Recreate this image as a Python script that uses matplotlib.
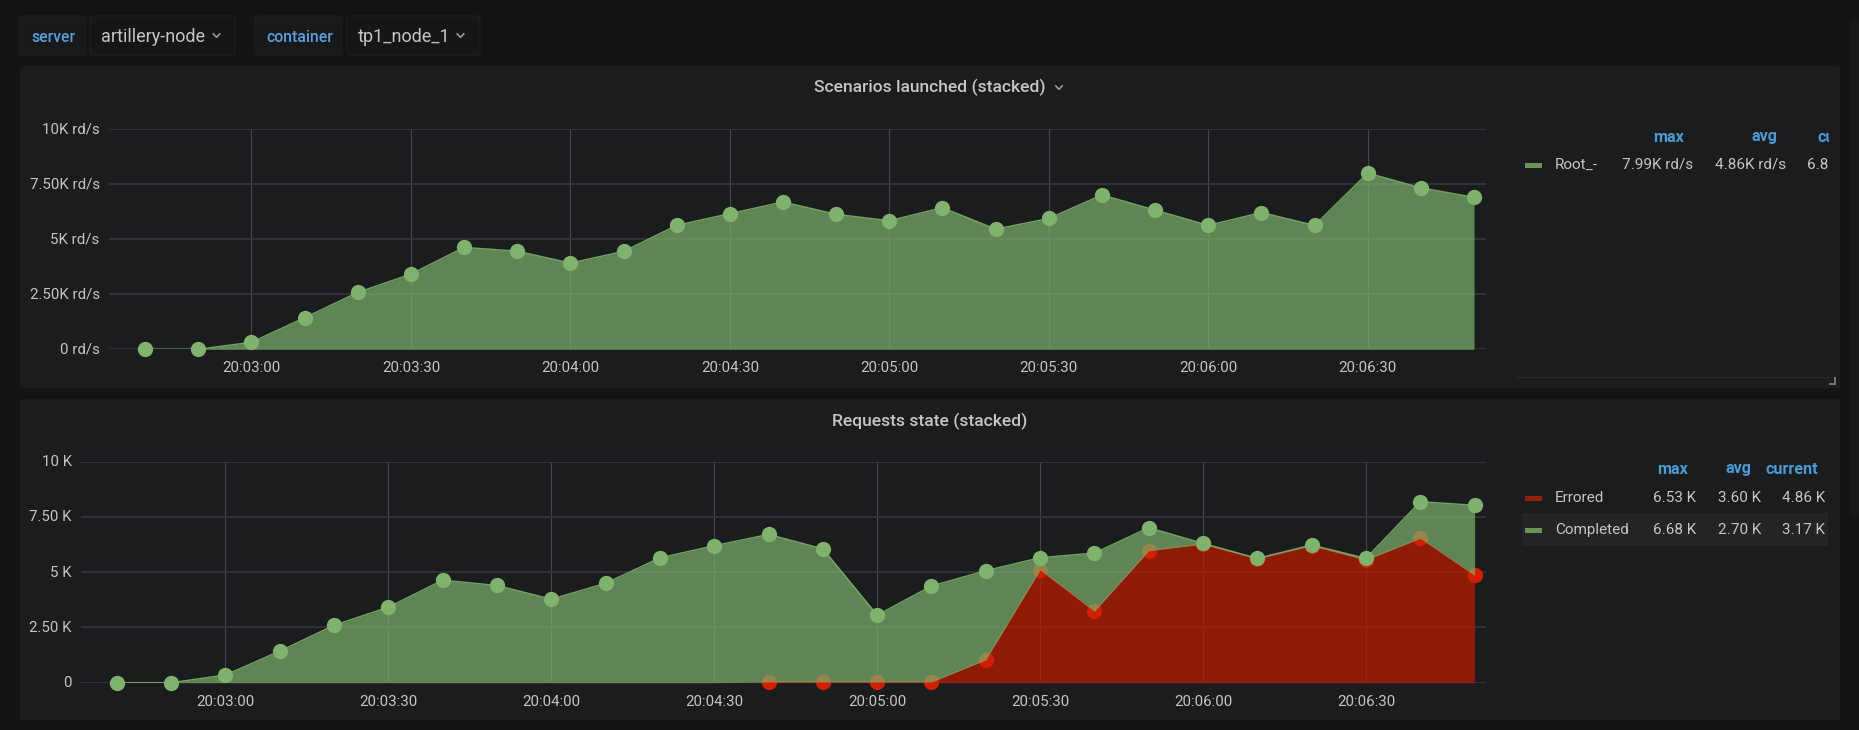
import matplotlib
matplotlib.use("Agg")
import matplotlib.pyplot as plt
from matplotlib.patches import FancyBboxPatch, Rectangle
from matplotlib.lines import Line2D
from matplotlib.transforms import Bbox, IdentityTransform, ScaledTranslation
import numpy as np
import pandas as pd

W, H = 1859, 730
plt.rcParams['font.family'] = ['Roboto', 'DejaVu Sans']

# ---------- data ----------
times = ["20:02:40", "20:02:50", "20:03:00", "20:03:10", "20:03:20", "20:03:30", "20:03:40",
         "20:03:50", "20:04:00", "20:04:10", "20:04:20", "20:04:30", "20:04:40", "20:04:50",
         "20:05:00", "20:05:10", "20:05:20", "20:05:30", "20:05:40", "20:05:50", "20:06:00",
         "20:06:10", "20:06:20", "20:06:30", "20:06:40", "20:06:50"]
root = [0, 0, 320, 1430, 2580, 3410, 4620, 4450, 3910, 4440, 5620, 6150, 6680, 6120,
        5830, 6420, 5450, 5930, 7000, 6310, 5620, 6200, 5620, 7990, 7320, 6890]
errored = [np.nan] * 12 + [30, 30, 30, 30, 1030, 5100, 3230, 5970, 6270, 5600, 6200, 5550, 6530, 4860]
completed = [0, 0, 350, 1430, 2600, 3420, 4640, 4400, 3780, 4500, 5650, 6200, 6680, 6030,
             3030, 4345, 4040, 556, 2638, 1044, 36, 27, 30, 77, 1660, 3170]
tick_times = ["20:03:00", "20:03:30", "20:04:00", "20:04:30", "20:05:00", "20:05:30", "20:06:00", "20:06:30"]
y_ticks = [0, 2500, 5000, 7500, 10000]
y_labels_top = ["0 rd/s", "2.50K rd/s", "5K rd/s", "7.50K rd/s", "10K rd/s"]
y_labels_bottom = ["0", "2.50 K", "5 K", "7.50 K", "10 K"]

# ---------- style ----------
BG = "#131416"; PANEL = "#1b1c1e"; BOX = "#151618"; BORDER = "#1f2022"
GRID = "#343538"; VGRID = "#45464a"; TEXT = "#c7c5c0"; BLUE = "#4a9bd6"; BLUE2 = "#5b9fe0"
GREEN = "#7EB26D"; RED = "#BF1B00"; RED_MARK = "#d11f00"; SW_GREEN = "#6f9155"; SW_RED = "#962010"
ALPHA = 0.7
MS = 11
TICK_SIZE = 10.8
LEG_SIZE = 11
HEAD_SIZE = 11.6

fig = plt.figure(figsize=(W / 100, H / 100), dpi=100, facecolor=BG)


def fx(x):
    return x / W


def fy(y):
    return 1 - y / H


def box(l, t, r, b, fc, ec="none", rad=3, z=0):
    p = FancyBboxPatch((l + rad, H - b + rad), r - l - 2 * rad, b - t - 2 * rad,
                       boxstyle=f"round,pad={rad},rounding_size={rad}",
                       fc=fc, ec=ec, lw=0.8, zorder=z)
    p.set_transform(IdentityTransform())
    fig.add_artist(p)


def rect(l, t, r, b, fc, z=1):
    fig.add_artist(Rectangle((fx(l), fy(b)), (r - l) / W, (b - t) / H, transform=fig.transFigure,
                             fc=fc, ec="none", zorder=z))


def label(x, y, s, size=LEG_SIZE, color=TEXT, ha="left", weight="normal", clip=None):
    t = fig.text(fx(x), fy(y + 1), s, fontsize=size, color=color, ha=ha, va="center", weight=weight, zorder=5)
    if clip is not None:
        t.set_clip_on(True)
        t.set_clip_box(Bbox([[clip[0], H - clip[3]], [clip[2], H - clip[1]]]))
    return t


def chevron(cx, cy, color="#9a9a9a"):
    fig.add_artist(Line2D([fx(cx - 3.2), fx(cx), fx(cx + 3.2)], [fy(cy - 1.6), fy(cy + 1.8), fy(cy - 1.6)],
                          transform=fig.transFigure, color=color, lw=1.2, zorder=5))


# page furniture
box(1850, 19, 1868, 516, "#17181a")
box(20, 66, 1840, 388, PANEL)
box(20, 399, 1840, 720, PANEL)

box(20, 16, 85, 55, "#18191b", BORDER)
box(90, 16, 235, 55, BOX, BORDER)
box(255, 16, 341, 55, "#18191b", BORDER)
box(347, 16, 480, 55, BOX, BORDER)
label(31, 36, "server", 11.3, BLUE2, weight="medium")
label(101, 35.5, "artillery-node", 13)
chevron(216.5, 35.5)
label(266, 36, "container", 11.3, BLUE2, weight="medium")
label(358, 35.5, "tp1_node_1", 13)
chevron(460.5, 35.5)

label(930, 86.5, "Scenarios launched (stacked)", 12.6, ha="center", weight="medium")
chevron(1059, 87.5)
label(930, 420, "Requests state (stacked)", 12.6, ha="center", weight="medium")

# ---------- axes ----------
t = pd.to_datetime(times, format="%H:%M:%S")
t0 = pd.to_datetime("20:03:00", format="%H:%M:%S")
ticks = pd.to_datetime(tick_times, format="%H:%M:%S")


def make_axes(left, top, right, bottom, xmin_s, xmax_s, ylabels):
    ax = fig.add_axes([fx(left), fy(bottom), (right - left) / W, (bottom - top) / H], facecolor="none")
    ax.set_xlim(t0 + pd.Timedelta(seconds=xmin_s), t0 + pd.Timedelta(seconds=xmax_s))
    ax.set_ylim(0, 10000)
    ax.set_yticks(y_ticks, ylabels)
    ax.set_xticks(ticks, tick_times)
    for s in ax.spines.values():
        s.set_visible(False)
    ax.tick_params(length=0, colors=TEXT, labelsize=TICK_SIZE)
    ax.tick_params(axis="y", pad=6.5)
    ax.tick_params(axis="x", pad=8.5)
    for lab in ax.get_yticklabels():
        lab.set_transform(lab.get_transform() + ScaledTranslation(0, 1 / 100, fig.dpi_scale_trans))
    ax.set_axisbelow(True)
    ax.yaxis.grid(True, color=GRID, lw=1.3)
    ax.xaxis.grid(True, color=VGRID, lw=0.8)
    return ax


# top chart
ax1 = make_axes(108.7, 128.7, 1486, 349.3, -26.85, 232.25, y_labels_top)
r = np.array(root, float)
ax1.fill_between(t, 0, r, color=GREEN, alpha=ALPHA, lw=0, zorder=2)
ax1.plot(t, r, color=GREEN, lw=1, alpha=0.9, zorder=3)
ax1.plot(t, r, ls="none", marker="o", ms=MS, mfc=GREEN, mec="none", clip_on=False, zorder=4)

# bottom chart
ax2 = make_axes(81, 461.7, 1486, 682.7, -26.6, 232.1, y_labels_bottom)
e = np.array(errored, float)
c = np.array(completed, float)
base = np.nan_to_num(e)
total = base + c
ax2.fill_between(t, 0, base, color=RED, alpha=ALPHA, lw=0, zorder=2)
ax2.plot(t[12:], e[12:], color=RED, lw=1, zorder=2.5)
ax2.plot(t, e, ls="none", marker="o", ms=MS, mfc=RED_MARK, mec="none", clip_on=False, zorder=2.6)
ax2.fill_between(t, base, total, color=GREEN, alpha=ALPHA, lw=0, zorder=3, clip_on=False)
ax2.plot(t, total, color=GREEN, lw=1, alpha=0.9, zorder=3.2)
ax2.plot(t, total, ls="none", marker="o", ms=MS, mfc=GREEN, mec="none", clip_on=False, zorder=4)

# ---------- legends ----------
clip1 = (1516, 120, 1829, 380)
label(1653, 136, "max", HEAD_SIZE, BLUE, weight="bold")
label(1751, 136, "avg", HEAD_SIZE, BLUE, weight="bold")
label(1818, 136, "current", HEAD_SIZE, BLUE, weight="bold", clip=clip1)
rect(1525, 163, 1542, 168, SW_GREEN)
label(1555, 163.7, "Root_-")
label(1622, 163.7, "7.99K rd/s")
label(1715, 163.7, "4.86K rd/s")
label(1807, 163.7, "6.89K rd/s", clip=clip1)
rect(1516, 376.6, 1829, 377.6, "#282a2c")
rect(1829, 383, 1836, 385, "#77706a")
rect(1834, 377, 1836, 385, "#77706a")

rect(1522, 513, 1828, 546, "#222425", z=0.5)
label(1657, 468, "max", HEAD_SIZE, BLUE, weight="bold")
label(1726, 468, "avg", HEAD_SIZE, BLUE, weight="bold")
label(1765, 468, "current", HEAD_SIZE, BLUE, weight="bold")
rect(1525, 496, 1542, 501, SW_RED)
label(1555, 497, "Errored")
label(1653, 497, "6.53 K")
label(1718, 497, "3.60 K")
label(1782, 497, "4.86 K")
rect(1525, 528, 1542, 533, SW_GREEN)
label(1555, 529, "Completed")
label(1653, 529, "6.68 K")
label(1718, 529, "2.70 K")
label(1782, 529, "3.17 K")

fig.savefig("out.png", dpi=100, facecolor=BG)
